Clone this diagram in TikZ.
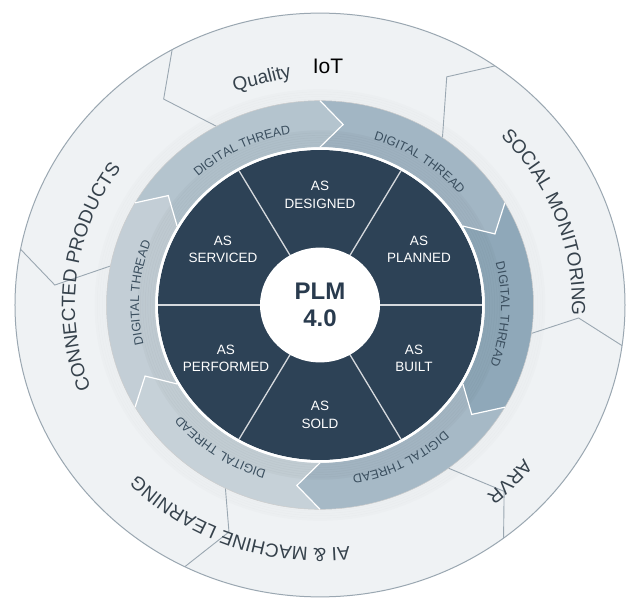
\documentclass[tikz,border=0pt]{standalone}
\usepackage{fontspec}
\setmainfont{Liberation Sans}
\usetikzlibrary{decorations.text}
\definecolor{darkdisk}{HTML}{2D4256}
\definecolor{ringline}{HTML}{9AA7B1}
\definecolor{outerfill}{HTML}{EFF2F4}
\definecolor{txt}{HTML}{36424C}
\definecolor{dttxt}{HTML}{3A4E5E}
\definecolor{segA}{HTML}{B4C4CE}
\definecolor{segB}{HTML}{A2B6C4}
\definecolor{segC}{HTML}{8FA8B9}
\definecolor{segD}{HTML}{A6B9C6}
\definecolor{segE}{HTML}{C6D1D8}
\definecolor{segF}{HTML}{C3CED6}
\begin{document}
\begin{tikzpicture}[x=1pt,y=0.957pt,
  aslabel/.style={text=white,align=center,font=\fontsize{13.5}{17.5}\selectfont},
  outertext/.style={decorate,decoration={text along path,text align=center,text color=txt,
     text={|\fontsize{19}{19}\selectfont|#1}}},
  dtext/.style={decorate,decoration={text along path,text align=center,text color=dttxt,
     text={|\fontsize{12.5}{12.5}\selectfont|DIGITAL THREAD}}}]
\useasboundingbox[fill=white] (-320,-306.2) rectangle (306,318.7);
% outer ring
\fill[outerfill] (0,0) circle (305);
\draw[ringline,line width=1] (0,0) circle (305);
\foreach \i in {0,...,4}
  \draw[black,opacity=0.012,line width=3] (0,0) circle ({214+\i*2.5});
% outer chevrons
\foreach \a/\t/\r in {119/126/266, 55/62/270, -8/-3/259, -53/-46.6/268, -116.3/-111/254, 169/175.5/266}
  \draw[ringline,line width=0.9,line join=miter] (\a:213.5) -- (\t:\r) -- (\a:305);
% digital thread ring segments
\foreach \a/\c in {150/segA, 90/segB, 30/segC, -30/segD, -90/segE, -150/segF}
  \fill[\c] (\a:165) -- ({\a-7}:190) -- (\a:213.5)
    arc[start angle=\a, end angle={\a-60}, radius=213.5]
    -- ({\a-67}:190) -- ({\a-60}:165)
    arc[start angle={\a-60}, end angle=\a, radius=165] -- cycle;
\foreach \i in {0,...,6}
  \draw[black,opacity=0.022,line width=3] (0,0) circle ({166+\i*2.5});
\draw[gray!40,line width=0.5] (0,0) circle (213.5);
\foreach \a in {150,90,30,-30,-90,-150}
  \draw[white,line width=1.2,line join=miter] (\a:165) -- ({\a-7}:190) -- (\a:213.5);
% digital thread texts
\foreach \c in {116,56,-3,-63,-124,176}
  \path[dtext] ({\c+30}:181) arc[start angle={\c+30}, end angle={\c-30}, radius=181];
% dark disk
\fill[darkdisk] (0,0) circle (162);
\draw[white,line width=2.5] (0,0) circle (163.5);
\foreach \a in {0,60,...,300}
  \draw[white!80!darkdisk,line width=1.3] (0,0) -- (\a:162);
\fill[white] (0,0) circle (60);
% labels
\node[aslabel] (designed) at (0,115) {AS\\DESIGNED};
\node[aslabel] (planned) at (99,58) {AS\\PLANNED};
\node[aslabel] (built) at (94,-56) {AS\\BUILT};
\node[aslabel] (sold) at (0,-115) {AS\\SOLD};
\node[aslabel] (performed) at (-94,-56) {AS\\PERFORMED};
\node[aslabel] (serviced) at (-97,58) {AS\\SERVICED};
\node[align=center,text=darkdisk!90!black,font=\fontsize{24}{27}\selectfont\bfseries] (plm) at (0,0) {PLM\\4.0};
% outer texts
\node[rotate=14,text=txt,font=\fontsize{19}{19}\selectfont] (quality) at (-58,236) {Quality};
\node[text=black,font=\fontsize{21}{21}\selectfont] (iot) at (8,249) {IoT};
\path[outertext={CONNECTED PRODUCTS}] (217.6:245) arc[start angle=217.6, end angle=127.6, radius=245];
\path[outertext={SOCIAL MONITORING}] (65.6:252) arc[start angle=65.6, end angle=-24.4, radius=252];
\path[outertext={AI {\&} MACHINE LEARNING}] (-55:254) arc[start angle=-55, end angle=-165, radius=254];
\path[outertext={ARVR}] (-24:259) arc[start angle=-24, end angle=-64, radius=259];
\end{tikzpicture}
\end{document}
